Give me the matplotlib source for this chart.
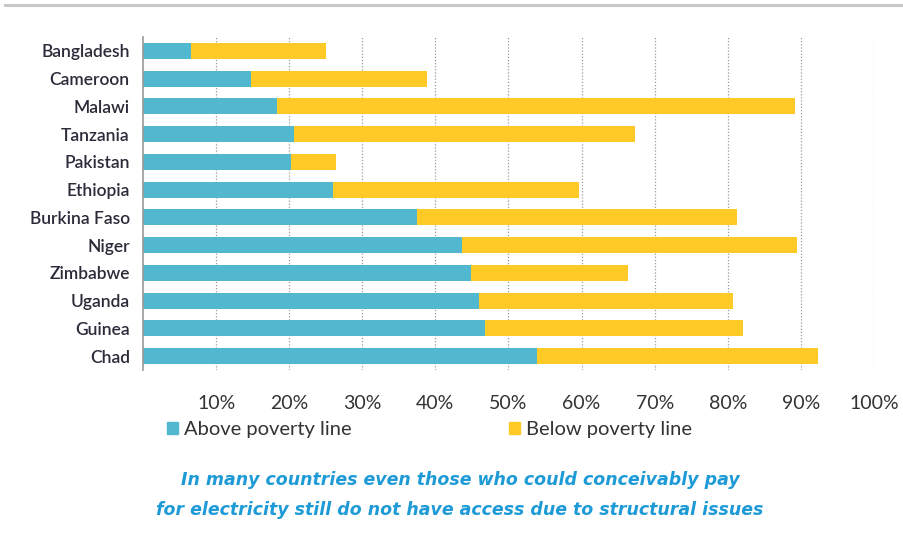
import matplotlib
matplotlib.use("Agg")
import matplotlib.pyplot as plt
from matplotlib.lines import Line2D
from matplotlib.patches import Patch

countries = ["Bangladesh", "Cameroon", "Malawi", "Tanzania", "Pakistan", "Ethiopia",
             "Burkina Faso", "Niger", "Zimbabwe", "Uganda", "Guinea", "Chad"]
above = [6.5, 14.8, 18.3, 20.7, 20.3, 26.0, 37.5, 43.7, 44.9, 46.0, 46.8, 53.9]
total = [25.0, 38.8, 89.2, 67.3, 26.4, 59.6, 81.3, 89.4, 66.3, 80.7, 82.1, 92.3]
below = [t - a for t, a in zip(total, above)]
xticks = [10, 20, 30, 40, 50, 60, 70, 80, 90, 100]
xticklabels = [f"{v}%" for v in xticks]

BLUE = "#52B8D0"
YELLOW = "#FFC926"
FONT = ["Lato", "DejaVu Sans"]

fig = plt.figure(figsize=(9.04, 5.33), dpi=100)
ax = fig.add_axes([143/904, 1-370/533, (874-143)/904, (370-37)/533])

y = list(range(len(countries)))
ax.barh(y, above, height=0.58, color=BLUE, edgecolor="none")
ax.barh(y, below, left=above, height=0.58, color=YELLOW, edgecolor="none")

ax.set_xlim(0, 100)
ax.set_ylim(len(countries) - 0.5, -0.5)
ax.set_xticks(xticks)
ax.set_xticklabels(xticklabels, fontfamily=FONT, fontsize=14, color="#333333")
ax.set_yticks(y)
ax.set_yticklabels(countries, fontfamily=FONT, fontsize=12.5, color="#2b2b3a", fontweight="semibold")
ax.tick_params(axis="both", length=0)
ax.tick_params(axis="x", pad=18)
ax.tick_params(axis="y", pad=9.5)

for v in xticks:
    ax.axvline(v, color="#9a9a9a", lw=0.9, ls=(0, (1, 1.5)), zorder=0)
ax.set_axisbelow(True)

for s in ["top", "right", "bottom"]:
    ax.spines[s].set_visible(False)
ax.spines["left"].set_color("#999999")
ax.spines["left"].set_linewidth(1.2)

# top rule
fig.add_artist(Line2D([5/904, 1.0], [1-5/533, 1-5/533], color="#c8c8c8", lw=2.2))

# legend
handles = [Patch(color=BLUE, label="Above poverty line"),
           Patch(color=YELLOW, label="Below poverty line")]
leg = fig.legend(handles=handles, loc="center left", bbox_to_anchor=(167/904, 1-430/533),
                 ncol=2, frameon=False, handlelength=0.55, handleheight=0.55,
                 handletextpad=0.3, columnspacing=7.8, borderpad=0, borderaxespad=0,
                 prop={"family": FONT, "size": 14.5})
for t in leg.get_texts():
    t.set_color("#333333")

cap = dict(ha="center", va="center", fontsize=12.5, color="#1E9BD7",
           fontstyle="italic", fontweight="bold", family=["DejaVu Sans"])
fig.text(460/904, 1-480/533, "In many countries even those who could conceivably pay", **cap)
fig.text(460/904, 1-510/533, "for electricity still do not have access due to structural issues", **cap)

fig.savefig("out.png", dpi=100)
